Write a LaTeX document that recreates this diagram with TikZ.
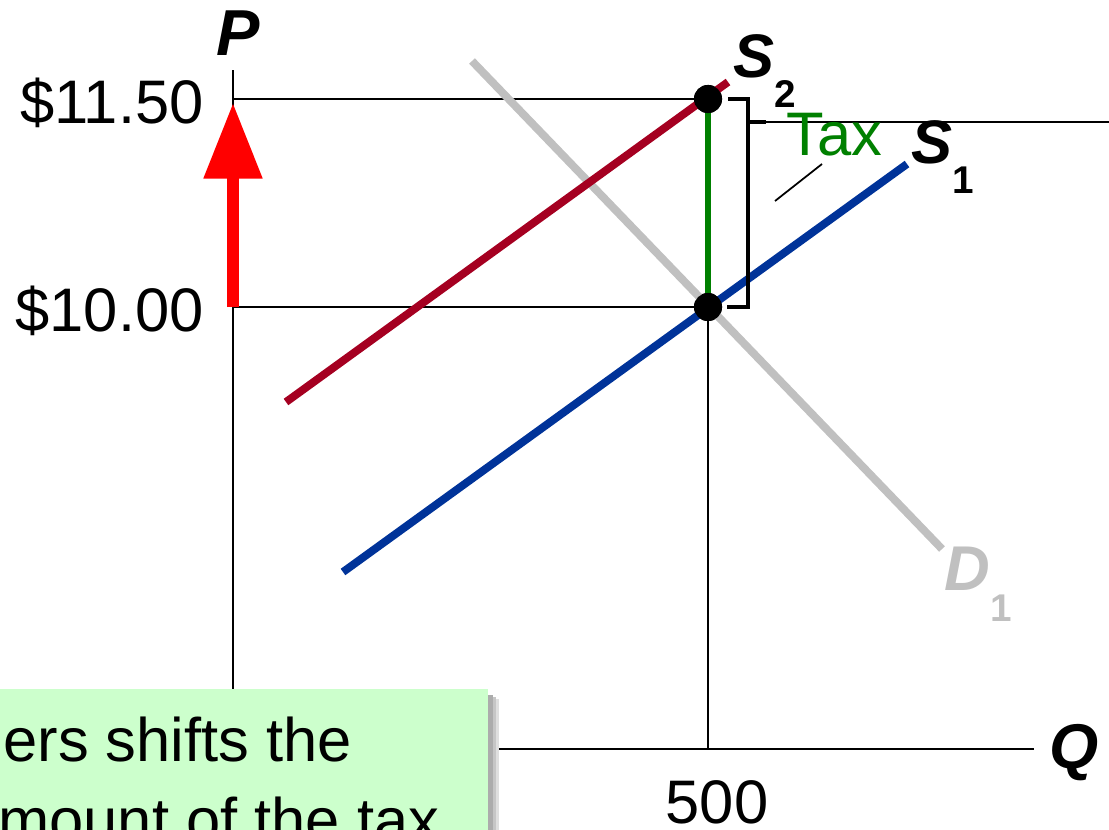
\documentclass[tikz,border=0pt]{standalone}
\usepackage{fontspec}
\setmainfont{Liberation Sans}
\usetikzlibrary{arrows.meta, positioning, calc}
\definecolor{SupRed}{HTML}{A50021}
\definecolor{SupBlue}{HTML}{003399}
\definecolor{DemGray}{HTML}{C0C0C0}
\definecolor{TaxGreen}{HTML}{008000}
\definecolor{NoteGreen}{HTML}{CCFFCC}
\newcommand{\lblsub}[1]{\raisebox{-0.5em}{\fontsize{22}{22}\selectfont\bfseries\upshape #1}}

\begin{document}
\begin{tikzpicture}[
        x=0.02cm, y=-0.02cm,
        ax/.style={line width=1.1pt, black},
        curve/.style={line width=4.5pt},
        num/.style={inner sep=0pt, font=\fontsize{35}{42}\selectfont},
        var/.style={inner sep=0pt, font=\fontsize{36}{42}\selectfont\bfseries\itshape},
        dot/.style={circle, fill=black, inner sep=0pt, minimum size=16pt},
      ]
        \useasboundingbox (0,0) rectangle (1109,829);
        \clip (0,0) rectangle (1109,829);
        % points
        \coordinate (O) at (233,749);
        \coordinate (ytop) at (233,70);
        \coordinate (xend) at (1034,749);
        \coordinate (p1) at (233,99);
        \coordinate (p0) at (233,307);
        \coordinate (q0) at (708,749);
        \node[dot] (E2) at (708,99) {};
        \node[dot] (E1) at (708,307) {};
        % guides and axes
        \draw[ax] (p1) -- (E2.center);
        \draw[ax] (p0) -- (E1.center) -- (q0);
        \draw[ax] (ytop) -- (O) -- (xend);
        % curves
        \coordinate (d1a) at (472,61);
        \coordinate (d1b) at (942,549);
        \coordinate (s2a) at (286,402);
        \coordinate (s2b) at (728,82);
        \coordinate (s1a) at (343,572);
        \coordinate (s1b) at (907,164);
        \draw[curve, DemGray] (d1a) -- (d1b);
        \draw[curve, SupRed] (s2a) -- (s2b);
        \draw[curve, SupBlue] (s1a) -- (s1b);
        \draw[line width=3.4pt, TaxGreen] (E1.center) -- (E2.center);
        \node[dot] at (E2) {};
        \node[dot] at (E1) {};
        % bracket for the tax
        \coordinate (br) at (748,122);
        \draw[line width=2.2pt] ($(E2)+(20,0)$) -- (748,99) -- (748,307) -- ($(E1)+(19,0)$);
        \draw[line width=2.2pt] (br) -- ++(18,0) coordinate (brx);
        \draw[line width=1pt] (brx) -- (1109,122);
        \coordinate (tp1) at (775,201);
        \coordinate (tp2) at (822,164);
        \draw[line width=1pt] (tp1) -- (tp2);
        % price rise
        \draw[-{Triangle[width=32pt,length=43pt]}, line width=6.3pt, red] (p0) -- (233,103);
        % labels
        \node[var, font=\fontsize{37}{42}\selectfont\bfseries\itshape, anchor=base] (P) at (238,55) {P};
        \node[var, anchor=base] (Q) at (1074,768) {Q};
        \node[num, anchor=base east] (p115) at (204,123) {\$11.50};
        \node[num, anchor=base east] (p100) at (204,331) {\$10.00};
        \node[num, anchor=base] (q500) at (717,823) {500};
        \node[num, anchor=base west, text=TaxGreen] (tax) at (786,155) {Tax};
        \node[var, font=\fontsize{35}{42}\selectfont\bfseries\itshape, anchor=base west] (S2) at (733,77) {S\lblsub{2}};
        \node[var, font=\fontsize{35}{42}\selectfont\bfseries\itshape, anchor=base west] (S1) at (911,163) {S\lblsub{1}};
        \node[var, anchor=base west, text=DemGray] (D1) at (944,590) {D\lblsub{1}};
        % note box
        \fill[gray!25] (-20,699) rectangle (499,860);
        \fill[gray!45] (-20,697) rectangle (496,860);
        \fill[gray!65] (-20,695) rectangle (493,860);
        \node[draw=none, fill=NoteGreen, anchor=north west, minimum width=508*0.02cm,
              minimum height=170*0.02cm, inner sep=0pt] (note) at (-20,689) {};
        \node[num, anchor=base west] (noteA) at (3,761) {ers shifts the};
        \node[num, anchor=base west] (noteB) at (-2,841) {mount of the tax};
      \end{tikzpicture}
\end{document}
